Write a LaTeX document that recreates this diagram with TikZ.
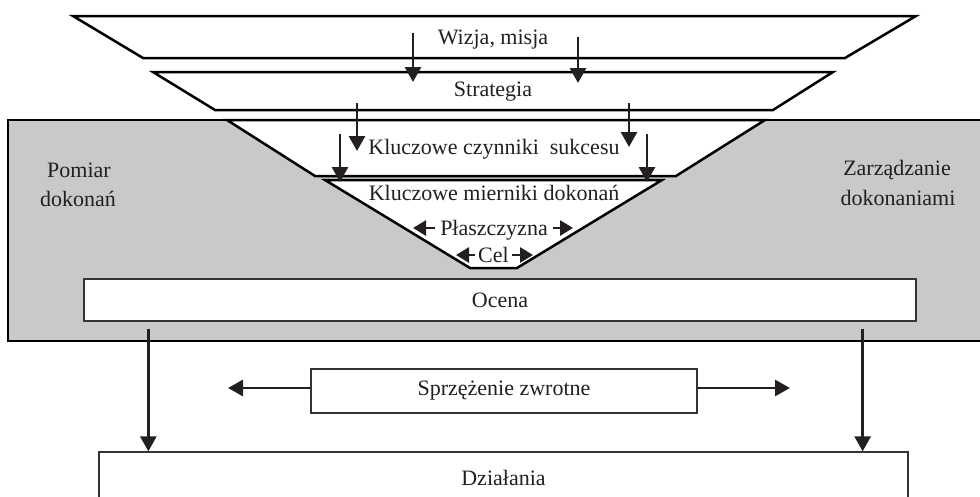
\documentclass[tikz,border=0pt]{standalone}
\usepackage{fontspec}
\setmainfont{Liberation Serif}
\usetikzlibrary{arrows.meta}
\definecolor{panel}{RGB}{200,201,203}
\definecolor{ink}{RGB}{35,31,32}
\begin{document}
\begin{tikzpicture}[x=1pt,y=-1pt,
  txt/.style={font=\fontsize{22}{29}\selectfont, text=ink, inner sep=0pt, anchor=base},
  trap/.style={draw=black, line width=2.5pt, fill=white, line join=miter},
  arr/.style={draw=ink, line width=2.8pt, -{Triangle[length=15pt,width=16pt]}},
  sarr/.style={draw=ink, line width=2.8pt, -{Triangle[length=13pt,width=15pt]}},
  box/.style={draw=black!80, line width=1.3pt, fill=white, inner sep=0pt, text=ink,
    font=\fontsize{22}{29}\selectfont}
]
\useasboundingbox (0,0) rectangle (980,496);
\clip (0,0) rectangle (980,496);
% grey panel
\draw[fill=panel, line width=2.5pt] (8,120) rectangle (990,341);
% funnel
\draw[trap] (227,120) -- (765,120) -- (676,176) -- (315,176) -- cycle;
\draw[trap] (325,180) -- (662,180) -- (517,268) -- (470,268) -- cycle;
\draw[trap] (73,16) -- (916,16) -- (845,58) -- (143,58) -- cycle;
\draw[trap] (153,72) -- (833,72) -- (773,110) -- (215,110) -- cycle;
% labels
\node[txt] (wizja) at (493,44) {Wizja, misja};
\node[txt] (strat) at (493,96) {Strategia};
\node[txt] (kcs) at (494,154) {Kluczowe czynniki\ \ sukcesu};
\node[txt] (kmd) at (494,200) {Kluczowe mierniki dokonań};
\node[txt] (plasz) at (494,235) {Płaszczyzna};
\node[txt] (cel) at (493.5,262) {Cel};
\node[txt] (pom1) at (79,177) {Pomiar};
\node[txt] (pom2) at (78,206) {dokonań};
\node[txt] (zar1) at (897,175) {Zarządzanie};
\node[txt] (zar2) at (898,205) {dokonaniami};
% boxes
\node[box, minimum width=832pt, minimum height=42pt] (ocena) at (500,300) {Ocena};
\node[box, minimum width=386pt, minimum height=44pt] (spr) at (504,391) {Sprzężenie zwrotne};
\node[box, minimum width=809pt, minimum height=52pt] (dz) at (503.5,478) {Działania};
% funnel arrows
\coordinate (a1s) at (413,33);  \coordinate (a1e) at (413,82);
\coordinate (a2s) at (578,37);  \coordinate (a2e) at (578,83);
\coordinate (a3s) at (357,103); \coordinate (a3e) at (357,151);
\coordinate (a4s) at (629,103); \coordinate (a4e) at (629,147);
\coordinate (a5s) at (340,134); \coordinate (a5e) at (340,182);
\coordinate (a6s) at (647,134); \coordinate (a6e) at (647,182);
\draw[arr] (a1s) -- (a1e);
\draw[arr] (a2s) -- (a2e);
\draw[arr] (a3s) -- (a3e);
\draw[arr] (a4s) -- (a4e);
\draw[arr] (a5s) -- (a5e);
\draw[arr] (a6s) -- (a6e);
% plane / goal arrows
\coordinate (p1) at (413,228); \coordinate (p2) at (573,228);
\coordinate (c1) at (456,255); \coordinate (c2) at (533,255);
\draw[sarr] ([xshift=-5pt]plasz.west |- p1) -- (p1);
\draw[sarr] ([xshift=5pt]plasz.east |- p2) -- (p2);
\draw[sarr] ([xshift=-3pt]cel.west |- c1) -- (c1);
\draw[sarr] ([xshift=3pt]cel.east |- c2) -- (c2);
% feedback arrows
\coordinate (fl) at (228,388); \coordinate (fr) at (790,388);
\draw[arr] ([yshift=3pt]spr.west) -- (fl);
\draw[arr] ([yshift=3pt]spr.east) -- (fr);
% evaluation to actions
\coordinate (o1) at ([shift={(65,7)}]ocena.south west);
\coordinate (o2) at ([shift={(-54,7)}]ocena.south east);
\draw[arr] (o1) -- (o1 |- dz.north);
\draw[arr] (o2) -- (o2 |- dz.north);
\end{tikzpicture}
\end{document}
